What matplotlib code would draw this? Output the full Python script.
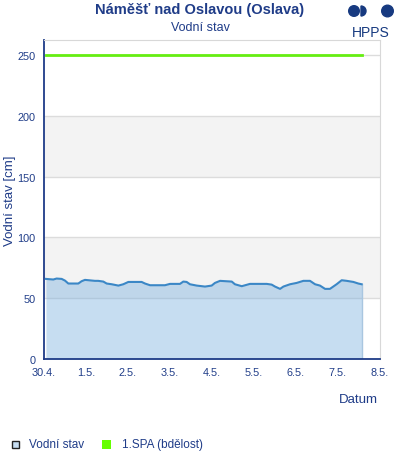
import matplotlib
matplotlib.use("Agg")
import matplotlib.pyplot as plt
import matplotlib.dates as mdates
from matplotlib.patches import Circle, Wedge, Rectangle
import pandas as pd

plt.rcParams['font.family'] = ['Liberation Sans', 'DejaVu Sans']

# water level readings: hours since 30.4. 00:00 and level in cm
hours = [1.1, 5.3, 7.2, 10.1, 12.0, 13.9, 19.6, 21.5, 23.4, 29.1, 31.0, 33.9,
         35.8, 38.7, 42.5, 45.3, 48.2, 55.8, 57.7, 60.6, 69.1, 72.0, 77.7,
         79.6, 81.5, 83.4, 87.3, 92.0, 95.8, 97.7, 100.6, 107.3, 109.1, 113.0,
         117.7, 127.3, 130.1, 132.0, 134.9, 136.8, 140.6, 144.4, 148.2, 152.0,
         154.9, 157.7, 160.6, 163.4, 167.2, 170.1, 173.0, 176.8, 179.6, 181.5]
level = [65.9, 65.4, 66.2, 65.9, 64.5, 62.1, 62.1, 64.0, 65.1, 64.3, 64.3,
         63.7, 62.1, 61.5, 60.4, 61.5, 63.4, 63.4, 62.1, 60.7, 60.7, 61.8,
         61.8, 63.7, 63.4, 61.5, 60.4, 59.6, 60.4, 62.6, 64.3, 63.7, 61.5,
         59.9, 61.8, 61.8, 61.2, 59.6, 57.7, 59.6, 61.5, 62.6, 64.3, 64.3,
         61.5, 60.4, 57.7, 57.7, 61.5, 64.8, 64.3, 63.4, 62.1, 61.5]
spa1 = 250
legend_labels = ['Vodní stav', '1.SPA (bdělost)']

start = pd.Timestamp("2024-04-30")
end = pd.Timestamp("2024-05-08")
t = [start + pd.Timedelta(hours=h) for h in hours]

navy = '#1f3c88'

fig = plt.figure(figsize=(4, 4.6), dpi=100)
ax = fig.add_axes([0.11, 0.2174, 0.84, 0.6935])

# background bands + grid
for lo, hi in [(50, 100), (150, 200)]:
    ax.axhspan(lo, hi, color='#f3f3f3', zorder=0, lw=0)
for y in range(0, 251, 50):
    ax.axhline(y, color='#dcdcdc', lw=1, zorder=1)

ax.fill_between(t, 0, level, color='#77aede', alpha=0.42, lw=0, zorder=2)
ax.plot([t[-1], t[-1]], [0, level[-1]], color='#a9c6e0', lw=1, zorder=2)
ax.plot(t, level, color='#3b87c6', lw=1.5, zorder=3)
ax.plot([t[0], t[-1]], [spa1, spa1], color='#66ee11', lw=2, zorder=3)

ax.set_xlim(start, end)
ax.set_ylim(0, 262.5)
ax.set_yticks(range(0, 251, 50))
ax.xaxis.set_major_locator(mdates.DayLocator())
ax.xaxis.set_major_formatter(mdates.DateFormatter('%-d.%-m.'))
ax.tick_params(length=0, labelsize=7.8, colors=navy, pad=6)

for s in ['top', 'right']:
    ax.spines[s].set_color('#d8d8d8')
for s in ['left', 'bottom']:
    ax.spines[s].set_color(navy)
    ax.spines[s].set_linewidth(1.3)

ax.set_ylabel('Vodní stav [cm]', color=navy, fontsize=9.5)
ax.yaxis.set_label_coords(-0.082, 0.5)
fig.text(0.945, 0.13, 'Datum', color=navy, fontsize=9.5, ha='right', va='center')

fig.text(0.5, 0.978, 'Náměšť nad Oslavou (Oslava)', color=navy, fontsize=10.5,
         fontweight='bold', ha='center', va='center')
fig.text(0.5, 0.939, 'Vodní stav', color=navy, fontsize=9, ha='center', va='center')

# HPPS logo
logo = '#173a80'
fig.patches.append(Circle((354, 448), 5.3, transform=None, color=logo))
fig.patches.append(Wedge((361, 448), 5.0, -90, 90, transform=None, color=logo))
fig.patches.append(Circle((387.5, 448), 5.8, transform=None, color=logo))
fig.text(0.927, 0.929, 'HPPS', color=logo, fontsize=10, ha='center', va='center')

# legend
fig.patches.append(Rectangle((12, 11.5), 6.5, 6.5, transform=None,
                             facecolor='#c6ddf1', edgecolor='#222222', lw=1))
fig.patches.append(Rectangle((101.5, 10), 9.5, 9, transform=None,
                             facecolor='#66ff00', edgecolor='none'))
fig.text(29 / 400, 15 / 460, legend_labels[0], color=navy, fontsize=8.5, va='center')
fig.text(122 / 400, 15 / 460, legend_labels[1], color=navy, fontsize=8.5, va='center')

fig.savefig('out.png', dpi=100)
